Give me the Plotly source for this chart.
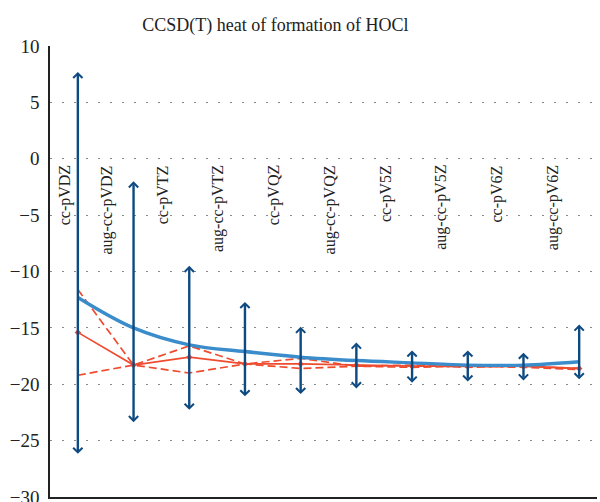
import plotly.graph_objects as go

# Basis sets along the x axis
basis = ["cc-pVDZ", "aug-cc-pVDZ", "cc-pVTZ", "aug-cc-pVTZ", "cc-pVQZ",
         "aug-cc-pVQZ", "cc-pV5Z", "aug-cc-pV5Z", "cc-pV6Z", "aug-cc-pV6Z"]

# CCSD(T) heat of formation (kcal/mol)
ccsdt = [-12.3, -15.0, -16.5, -17.1, -17.6, -17.9, -18.1, -18.3, -18.3, -18.0]

# Uncertainty range drawn as double-headed arrows
range_hi = [7.7, -2.0, -9.5, -12.7, -14.9, -16.3, -17.0, -17.0, -17.2, -14.7]
range_lo = [-26.3, -23.5, -22.4, -21.2, -21.0, -20.5, -20.0, -19.9, -19.8, -19.7]

# Corrected / extrapolated estimates
corr_solid = [-15.4, -18.3, -17.6, -18.2, -18.2, -18.3, -18.4, -18.4, -18.4, -18.6]
corr_dash_a = [-11.6, -18.3, -16.6, -18.2, -17.7, -18.4, -18.3, -18.5, -18.4, -18.6]
corr_dash_b = [-19.2, -18.3, -19.0, -18.2, -18.6, -18.4, -18.5, -18.4, -18.5, -18.7]

xs = list(range(len(basis)))

RED = "#ee4b2f"
BLUE = "#3a8ccb"
NAVY = "#0e4a82"
SERIF = "Liberation Serif, Times New Roman, serif"

fig = go.Figure()

fig.add_trace(go.Scatter(x=xs, y=corr_dash_a, mode="lines",
                         line=dict(color=RED, width=1.7, dash="8px,4px")))
fig.add_trace(go.Scatter(x=xs, y=corr_dash_b, mode="lines",
                         line=dict(color=RED, width=1.7, dash="8px,4px")))
fig.add_trace(go.Scatter(x=xs, y=corr_solid, mode="lines+markers",
                         line=dict(color=RED, width=1.7),
                         marker=dict(color=RED, size=5, symbol="diamond")))
fig.add_trace(go.Scatter(x=xs, y=ccsdt, mode="lines",
                         line=dict(color=BLUE, width=3.4, shape="spline")))

annotations = []
for i in xs:
    annotations.append(dict(
        x=i, y=range_hi[i], ax=i, ay=range_lo[i],
        xref="x", yref="y", axref="x", ayref="y",
        text="", showarrow=True, arrowside="end+start",
        arrowhead=4, arrowsize=0.75, arrowwidth=2.4, arrowcolor=NAVY,
        standoff=0, startstandoff=0,
    ))
    # rotated basis-set label to the left of each arrow
    lx = -0.23 if i == 0 else i - 0.48
    annotations.append(dict(
        x=lx, y=-0.4, xref="x", yref="y", text=basis[i], showarrow=False,
        textangle=-90, xanchor="center", yanchor="top",
        font=dict(family=SERIF, size=16, color="#222222"),
    ))

fig.update_layout(
    width=600, height=502,
    margin=dict(l=50, r=3, t=46, b=5),
    paper_bgcolor="white", plot_bgcolor="white",
    showlegend=False,
    title=dict(text="CCSD(T) heat of formation of HOCl",
               x=0.459, xanchor="center", y=0.95, yanchor="middle",
               font=dict(family=SERIF, size=18, color="#222222")),
    annotations=annotations,
)

fig.update_xaxes(range=[-0.5, 9.32], showgrid=False, zeroline=False,
                 showline=True, linecolor="#222222", linewidth=1.5,
                 showticklabels=False, ticks="", automargin=False)
fig.update_yaxes(range=[-30, 10], dtick=5, tick0=0, showgrid=True,
                 gridcolor="#8a8a8a", gridwidth=1, griddash="2px,10px",
                 zeroline=False, showline=True, linecolor="#222222",
                 linewidth=1.5, ticks="outside", ticklen=5,
                 tickcolor="rgba(0,0,0,0)", ticklabeloverflow="allow",
                 automargin=False,
                 tickfont=dict(family=SERIF, size=19, color="#222222"))

fig.write_html("out.html")
